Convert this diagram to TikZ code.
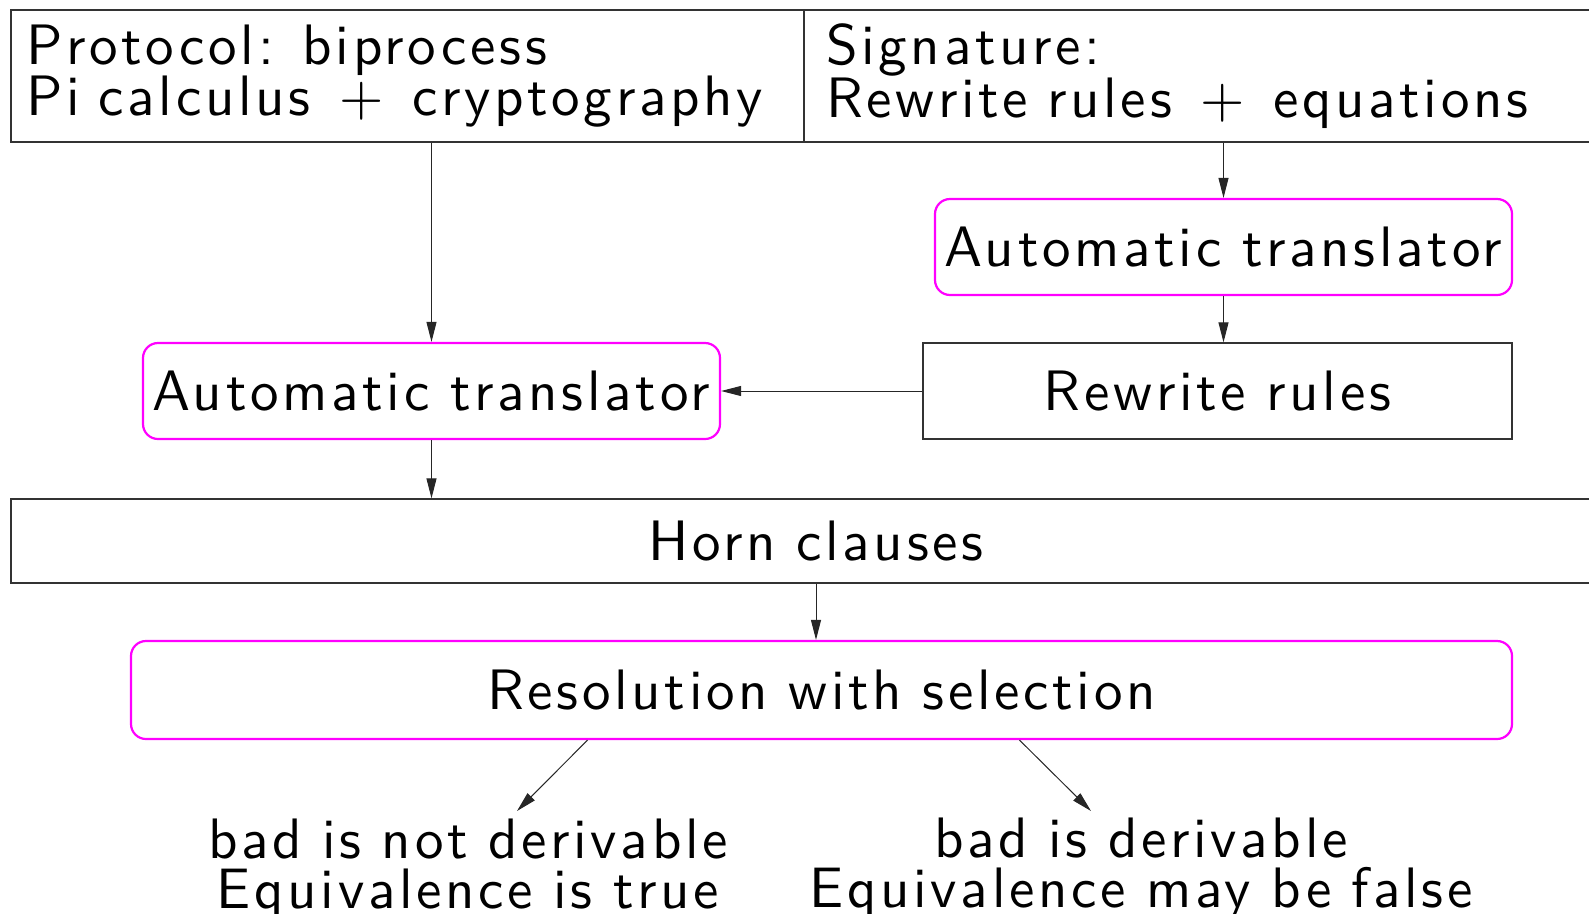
\documentclass[tikz,border=0pt]{standalone}
\usepackage{fontspec}
\setsansfont{lmsans10-regular.otf}[LetterSpace=6.5, WordSpace=0.9]
\usetikzlibrary{arrows.meta,calc}
\definecolor{toolmag}{RGB}{255,0,255}
\begin{document}
\begin{tikzpicture}[x=1pt, y=-1pt,
  every node/.style={font=\fontsize{57}{50}\selectfont\sffamily},
  plainbox/.style={draw=black!80, line width=1.3pt, inner sep=0pt},
  toolbox/.style={draw=toolmag, line width=2.2pt, rounded corners=15pt, inner sep=0pt},
  flow/.style={draw=black!85, line width=1pt, -{Triangle[length=20pt,width=10pt]}}]
  \useasboundingbox (0,0) rectangle (1589,913);
  % inputs
  \node[plainbox, minimum width=793pt, minimum height=132pt, text width=763pt, align=left] (proto) at (407.5,76) {Protocol: biprocess\\Pi calculus \,+\, cryptography};
  \node[plainbox, minimum width=817pt, minimum height=132pt, text width=773pt, align=left] (sig) at (1212.5,76) {Signature:\\Rewrite rules \,+\, equations};
  % translators
  \node[toolbox, minimum width=577pt, minimum height=96pt] (atr) at (1223.5,247) {Automatic translator};
  \node[plainbox, minimum width=589pt, minimum height=96pt] (rw) at (1217.5,391) {Rewrite rules};
  \node[toolbox, minimum width=577pt, minimum height=96pt] (atl) at (431.5,391) {Automatic translator};
  \node[plainbox, minimum width=1610pt, minimum height=84pt] (horn) at (816,541) {Horn clauses};
  \node[toolbox, minimum width=1381pt, minimum height=98pt] (res) at (821.5,690) {Resolution with selection};
  % results
  \node[align=center] (ok) at (468,869) {bad is not derivable\\Equivalence is true};
  \node[align=center] (bad) at (1141,869) {bad is derivable\\Equivalence may be false};
  \coordinate (okend) at (517,811);
  \coordinate (badend) at (1091,811);
  \draw[flow] (atl.north |- proto.south) -- (atl.north);
  \draw[flow] (atr.north |- sig.south) -- (atr.north);
  \draw[flow] (atr.south) -- (atr.south |- rw.north);
  \draw[flow] (rw.west) -- (atl.east);
  \draw[flow] (atl.south) -- (atl.south |- horn.north);
  \draw[flow] (horn.south) -- (horn.south |- res.north);
  \draw[flow] ($(res.south)+(-234,0)$) -- (okend);
  \draw[flow] ($(res.south)+(198,0)$) -- (badend);
\end{tikzpicture}
\end{document}
